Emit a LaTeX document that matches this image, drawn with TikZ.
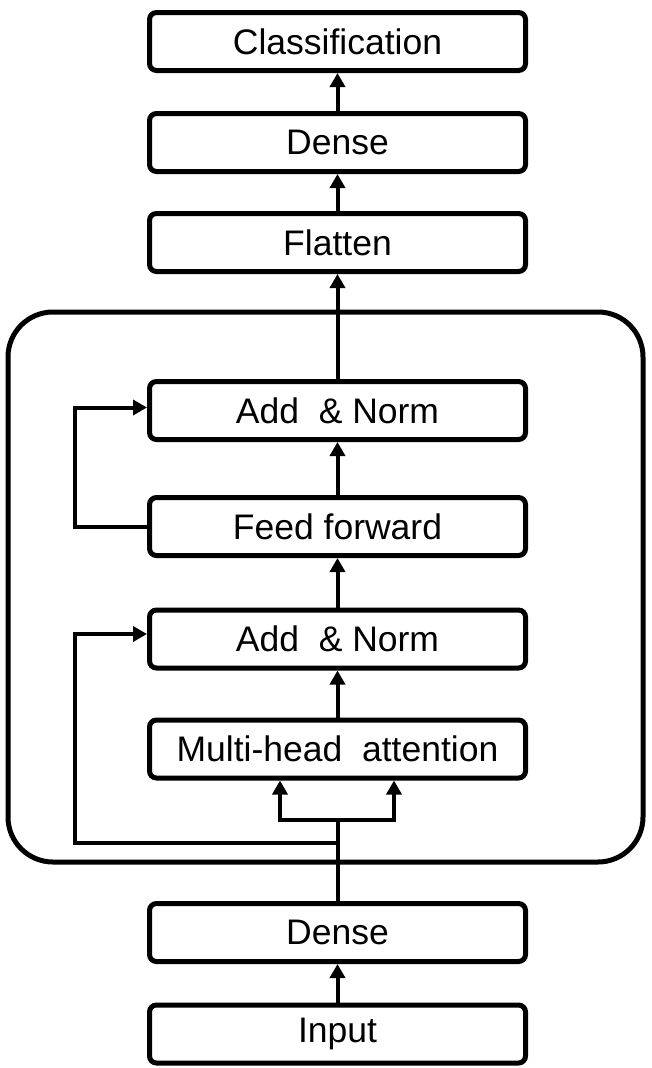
\documentclass[tikz,border=0pt]{standalone}
\usepackage{fontspec}
\setmainfont{Liberation Sans}
\usetikzlibrary{arrows.meta,calc}
\begin{document}
\begin{tikzpicture}[x=1pt,y=-1pt,
  box/.style={draw, line width=5pt, rounded corners=7pt, minimum width=376pt,
    minimum height=58pt, inner sep=0pt, font=\fontsize{35.5}{40}\selectfont},
  conn/.style={line width=4pt, -{Triangle[width=15pt,length=14pt]}},
  plain/.style={line width=4pt}]
\useasboundingbox (0,0) rectangle (651,1068);
% encoder block
\node (enc) [draw, line width=5pt, rounded corners=45pt, minimum width=635pt,
  minimum height=550pt, inner sep=0pt] at (325.5,587) {};
% layers
\node (cl)  [box] at (337.5,41.5)  {Classification};
\node (d1)  [box] at (337.5,142.5) {Dense};
\node (fl)  [box] at (337.5,242.5) {Flatten};
\node (an1) [box] at (337.5,410.5) {Add~~\&~Norm};
\node (ff)  [box] at (337.5,526.5) {Feed forward};
\node (an2) [box] at (337.5,639)   {Add~~\&~Norm};
\node (mha) [box] at (337.5,749)   {Multi-head~~attention};
\node (d2)  [box] at (337.5,932.5) {Dense};
\node (in)  [box] at (337.5,1034)  {Input};
% helper coordinates
\coordinate (split)  at (337.5,820);
\coordinate (branch) at (337.5,843);
\coordinate (sk2)    at (75,843);
\coordinate (sk1)    at (75,470);
% connectors
\draw[conn] (in) -- (d2);
\draw[plain] (d2.north) -- (split);
\draw[conn] (split) -| ([xshift=-57.5pt]mha.south);
\draw[conn] (split) -| ([xshift=56.5pt]mha.south);
\draw[conn] (branch) -- (sk2) |- ([yshift=5pt]an2.west);
\draw[conn] (mha) -- (an2);
\draw[conn] (an2) -- (ff);
\draw[conn] (ff) -- (an1);
\draw[conn] (ff.west) -| (sk1) |- ([yshift=3pt]an1.west);
\draw[conn] (an1) -- (fl);
\draw[conn] (fl) -- (d1);
\draw[conn] (d1) -- (cl);
\end{tikzpicture}
\end{document}
